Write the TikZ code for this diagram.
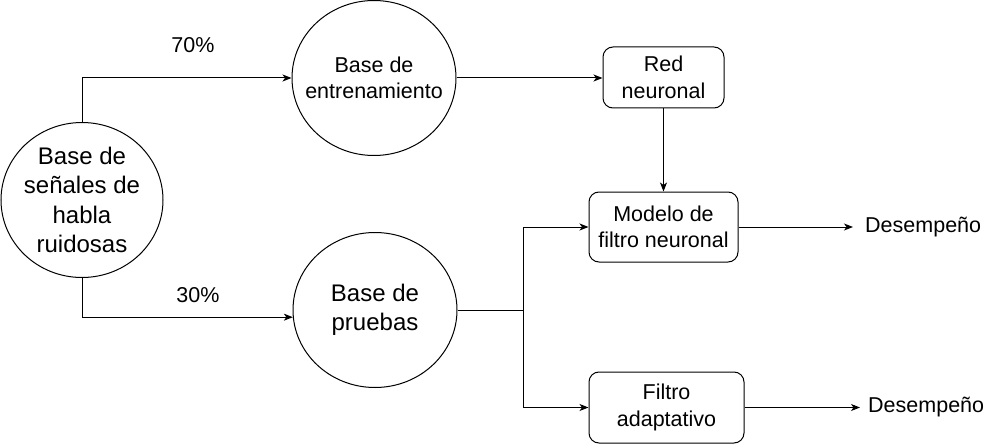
\documentclass[tikz,border=0pt]{standalone}
\usepackage{fontspec}
\setmainfont{Liberation Sans}
\usetikzlibrary{shapes.geometric,arrows.meta,calc}
\begin{document}
\begin{tikzpicture}[x=1pt,y=1pt,
  conn/.style={draw=black,line width=1pt},
  arr/.style={conn,-{Stealth[length=9pt,width=7pt,inset=2.5pt]}},
  dbcircle/.style={draw=black,line width=1pt,ellipse,inner sep=0pt},
  procbox/.style={draw=black,line width=1pt,rounded corners=10pt,inner sep=0pt,align=center,
    font=\fontsize{21.5}{26.5}\selectfont},
  lbl/.style={inner sep=0pt,font=\fontsize{21.5}{25}\selectfont}
]
\useasboundingbox (0,0) rectangle (997,-444);
\node[dbcircle,minimum width=162pt,minimum height=155pt,
  label={[align=center,inner sep=0pt,font=\fontsize{24}{29.5}\selectfont]center:Base de\\señales de\\habla\\ruidosas}]
  (c1) at (82,-200) {};
\node[dbcircle,minimum width=164pt,minimum height=155pt,
  label={[align=center,inner sep=0pt,font=\fontsize{21.5}{26}\selectfont]center:Base de\\entrenamiento}]
  (c2) at (374,-78) {};
\node[dbcircle,minimum width=164pt,minimum height=155pt,
  label={[align=center,inner sep=0pt,font=\fontsize{24}{29.5}\selectfont]center:Base de\\pruebas}]
  (c3) at (375,-310) {};
\node[procbox,minimum width=121pt,minimum height=61pt] (red) at (663.5,-77.5) {Red\\neuronal};
\node[procbox,minimum width=149pt,minimum height=70pt] (mod) at (663.5,-227) {Modelo de\\filtro neuronal};
\node[procbox,minimum width=155pt,minimum height=71pt] (fil) at (666.5,-407.5) {Filtro\\adaptativo};
\node[lbl,anchor=west] (d1) at (865,-227) {Desempeño};
\node[lbl,anchor=west] (d2) at (868,-407.5) {Desempeño};
\node[lbl] (p70) at (193,-45) {70\%};
\node[lbl] (p30) at (198,-295) {30\%};
\coordinate (j) at (c3.east -| 523,0);
\coordinate (e1) at (853,-227);
\coordinate (e2) at (860,-407.5);
\draw[arr] (c1.north) |- (c2.west);
\draw[arr] (c1.south) |- (c3.185.6);
\draw[arr] (c2.east) -- (red.west |- c2.east);
\draw[arr] (red.south) -- (mod.north);
\draw[conn] (c3.east) -- (j);
\draw[arr] (j) |- (mod.west);
\draw[arr] (j) |- (fil.west);
\draw[arr] (mod.east) -- (e1);
\draw[arr] (fil.east) -- (e2);
\end{tikzpicture}
\end{document}
